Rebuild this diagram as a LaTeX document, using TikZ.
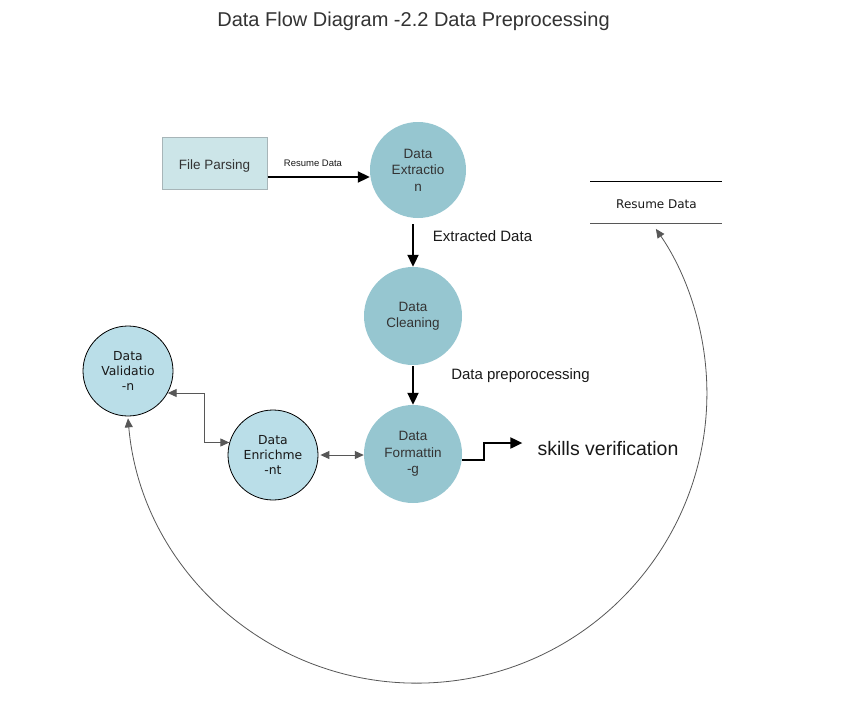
\documentclass[tikz,border=0pt]{standalone}
\usepackage{fontspec}
\setmainfont{Liberation Sans}
\newfontfamily\vfont{DejaVu Sans}
\usetikzlibrary{arrows.meta}
\definecolor{procfill}{HTML}{96C6D0}
\definecolor{auxfill}{HTML}{BADEE8}
\definecolor{fpfill}{HTML}{CCE5E8}
\definecolor{fpdraw}{HTML}{A7B5B8}
\definecolor{txtgray}{HTML}{333333}
\definecolor{lgray}{HTML}{575757}
\tikzset{
  proc/.style={circle, fill=procfill, minimum size=#1, inner sep=0pt, align=center,
    text=txtgray, font=\fontsize{13.5}{16.5}\selectfont},
  aux/.style={circle, fill=auxfill, draw=black, line width=0.8pt, minimum size=90pt, inner sep=0pt,
    align=center, text=black!90, font=\vfont\fontsize{12.4}{15}\selectfont},
  fpbox/.style={rectangle, fill=fpfill, draw=fpdraw, line width=1pt, minimum width=105pt,
    minimum height=52pt, text=txtgray, text height=12pt, text depth=0pt,
    font=\fontsize{13.5}{16}\selectfont},
  lbl/.style={inner sep=0pt, text=black!90},
  flow/.style={line width=2pt, -{Triangle[length=12pt,width=11pt]}},
  gline/.style={line width=1pt, draw=lgray, {Triangle[length=9pt,width=8pt]}-{Triangle[length=9pt,width=8pt]}}
}
\begin{document}
\begin{tikzpicture}[x=1pt,y=-1pt]
\useasboundingbox (0,0) rectangle (846,702);
\fill[white] (0,0) rectangle (846,702);

\node[lbl, text=txtgray, font=\fontsize{20}{24}\selectfont] (title) at (413.5,21) {Data Flow Diagram -2.2 Data Preprocessing};

\node[fpbox] (fp) at (214.5,163) {File Parsing};
\node[proc=96pt] (ext) at (418,170) {Data\\Extractio\\n};
\node[proc=98pt] (cln) at (413,316) {Data\\Cleaning};
\node[proc=98pt] (fmt) at (413,454) {Data\\Formattin\\-g};
\node[aux] (enr) at (273,455) {Data\\Enrichme\\-nt};
\node[aux] (val) at (128,371) {Data\\Validatio\\-n};

% data store
\coordinate (dsTL) at (590,181);
\coordinate (dsTR) at (722,181);
\coordinate (dsBL) at (590,223);
\coordinate (dsBR) at (722,223);
\draw[line width=1pt, black] (dsTL) -- (dsTR);
\draw[line width=1pt, lgray] (dsBL) -- (dsBR);
\node[lbl, font=\vfont\fontsize{12}{14}\selectfont] (rd) at (656.5,204) {Resume Data};

\node[lbl, font=\fontsize{19.5}{22}\selectfont] (sv) at (608,449) {skills verification};

% labels
\node[lbl, font=\fontsize{9.5}{11}\selectfont] (lrd) at (313,163) {Resume Data};
\node[lbl, font=\fontsize{15}{18}\selectfont] (led) at (482.5,236) {Extracted Data};
\node[lbl, font=\fontsize{15}{18}\selectfont] (ldp) at (520.5,376) {Data preporocessing};

% flows
\draw[flow] ([yshift=-14pt]fp.east) -- ([yshift=-14pt]fp.east -| ext.west);
\draw[flow] ([yshift=-6pt]ext.south -| cln.north) -- (cln.north);
\draw[flow] ([yshift=-1pt]cln.south) -- (fmt.north);
\draw[flow] ([yshift=-6pt]fmt.east) -- ++(22,0) |- ([xshift=-15pt,yshift=6pt]sv.west);

\draw[gline] ([xshift=2pt]enr.east) -- (enr.east -| fmt.west);
\draw[gline] (val.-29) -- ++(37,0) |- (enr.164);
\draw[gline, line width=0.8pt] ([yshift=-2pt]val.south) arc[start angle=185, end angle=394.5, radius=290pt];
\end{tikzpicture}
\end{document}
